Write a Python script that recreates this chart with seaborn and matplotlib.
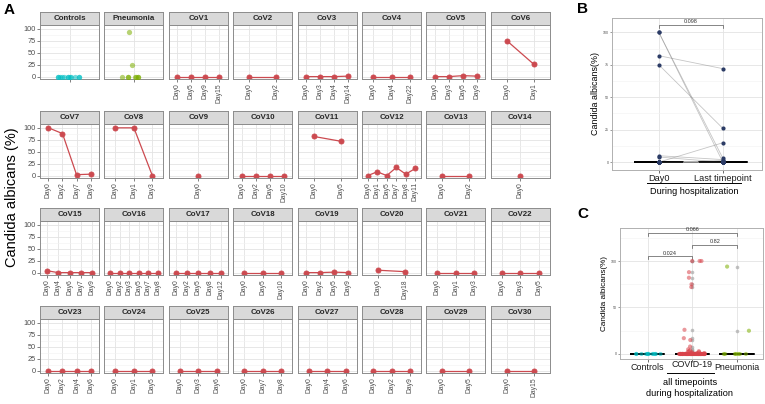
import numpy as np
import pandas as pd
import matplotlib
matplotlib.use('Agg')
import matplotlib.pyplot as plt
import seaborn as sns
from matplotlib.lines import Line2D
from matplotlib.transforms import ScaledTranslation

plt.rcParams['font.family'] = ['Liberation Sans', 'DejaVu Sans']

# ---- data ----
controls_vals = [0, 0, 0, 0, 0, 0, 0, 0, 0, 0, 0, 0]
pneumonia_vals = [0, 0, 0, 0, 0, 0, 0, 25, 94]

patients = ['CoV%d' % i for i in range(1, 31)]
cov_days = [
    ['Day0', 'Day5', 'Day9', 'Day15'],
    ['Day0', 'Day2'],
    ['Day0', 'Day3', 'Day4', 'Day14'],
    ['Day0', 'Day4', 'Day22'],
    ['Day0', 'Day3', 'Day5', 'Day9'],
    ['Day0', 'Day1'],
    ['Day0', 'Day2', 'Day7', 'Day9'],
    ['Day0', 'Day1', 'Day3'],
    ['Day0'],
    ['Day0', 'Day2', 'Day5', 'Day10'],
    ['Day0', 'Day5'],
    ['Day0', 'Day1', 'Day5', 'Day7', 'Day8', 'Day11'],
    ['Day0', 'Day2'],
    ['Day0'],
    ['Day0', 'Day4', 'Day6', 'Day7', 'Day9'],
    ['Day0', 'Day2', 'Day3', 'Day5', 'Day7', 'Day8'],
    ['Day0', 'Day2', 'Day5', 'Day8', 'Day12'],
    ['Day0', 'Day5', 'Day10'],
    ['Day0', 'Day2', 'Day5', 'Day9'],
    ['Day0', 'Day18'],
    ['Day0', 'Day1', 'Day3'],
    ['Day0', 'Day3', 'Day5'],
    ['Day0', 'Day2', 'Day4', 'Day6'],
    ['Day0', 'Day1', 'Day5'],
    ['Day0', 'Day3', 'Day6'],
    ['Day0', 'Day7', 'Day8'],
    ['Day0', 'Day4', 'Day6'],
    ['Day0', 'Day2', 'Day9'],
    ['Day0', 'Day5'],
    ['Day0', 'Day15'],
]
cov_vals = [
    [0, 0, 0, 0],
    [0, 0],
    [0, 0, 0, 1],
    [0, 0, 0],
    [0, 0, 2, 1],
    [75, 26],
    [100, 88, 2, 3],
    [100, 100, 0],
    [0],
    [0, 0, 0, 0],
    [82, 72],
    [0, 8, 0, 17, 3, 15],
    [0, 0],
    [0],
    [4, 0, 0, 0, 0],
    [0, 0, 0, 0, 0, 0],
    [0, 0, 0, 0, 0],
    [0, 0, 0],
    [0, 0, 1, 0],
    [5, 2],
    [0, 0, 0],
    [0, 0, 0],
    [0, 0, 0, 0],
    [0, 0, 0],
    [0, 0, 0],
    [0, 0, 0],
    [0, 0, 0],
    [0, 0, 0],
    [0, 0],
    [0, 0],
]
groups_c = ['Controls', 'COVID-19', 'Pneumonia']
pval_b = '0.098'
pvals_c = ['0.024', '0.82', '0.066']

RED = '#CC4A50'
TEAL = '#00BFC4'
OLIVE = '#7CAE00'
NAVY = '#2C3C66'
BORDER = '#8C8C8C'

W, H = 765, 404
fig = plt.figure(figsize=(W / 100, H / 100), dpi=100)


def fr(x, y, w, h):
    return [x / W, 1 - (y + h) / H, w / W, h / H]


def style_facet(ax, n, show_y):
    ax.set_xlim(-0.6, n - 0.4)
    ax.set_ylim(-5, 108)
    ax.set_yticks([0, 25, 50, 75, 100])
    ax.set_yticks([12.5, 37.5, 62.5, 87.5], minor=True)
    ax.grid(which='major', color='#E3E3E3', linewidth=0.6)
    ax.grid(which='minor', axis='y', color='#F2F2F2', linewidth=0.4)
    ax.set_axisbelow(True)
    for s in ax.spines.values():
        s.set_color(BORDER)
        s.set_linewidth(0.7)
    ax.tick_params(axis='y', which='major', labelsize=5.3, length=2,
                   width=0.5, colors='#4D4D4D', pad=1)
    ax.tick_params(axis='x', which='major', labelsize=4.9, length=2,
                   width=0.5, colors='#4D4D4D', pad=1)
    ax.tick_params(which='minor', length=0)
    if not show_y:
        ax.tick_params(axis='y', labelleft=False, left=False)
    plt.setp(ax.get_xticklabels(), rotation=90)
    ax.set_xlabel('')
    ax.set_ylabel('')


# ---- panel A ----
facets = ['Controls', 'Pneumonia'] + patients
row_tops = [25, 124, 221, 319]
np.random.seed(3)
for k, name in enumerate(facets):
    r, c = divmod(k, 8)
    x0 = 40 + c * 64.4
    top = row_tops[r]
    ax = fig.add_axes(fr(x0, top, 59, 54))
    sax = fig.add_axes(fr(x0, top - 13, 59, 13))
    sax.set_facecolor('#D9D9D9')
    sax.set_xticks([])
    sax.set_yticks([])
    for s in sax.spines.values():
        s.set_color(BORDER)
        s.set_linewidth(0.7)
    sax.text(0.5, 0.47, name, ha='center', va='center', fontsize=5.7,
             fontweight='bold', color='#262626', transform=sax.transAxes)

    if name == 'Controls':
        sns.stripplot(x=['Controls'] * len(controls_vals), y=controls_vals,
                      color=TEAL, alpha=0.55, jitter=0.25, size=3.8, ax=ax)
        n = 1
        ax.set_xticks([0])
        ax.set_xticklabels([''])
    elif name == 'Pneumonia':
        sns.stripplot(x=['Pneumonia'] * len(pneumonia_vals), y=pneumonia_vals,
                      color=OLIVE, alpha=0.55, jitter=0.25, size=3.8, ax=ax)
        n = 1
        ax.set_xticks([0])
        ax.set_xticklabels([''])
    else:
        i = k - 2
        sns.pointplot(x=cov_days[i], y=cov_vals[i], color=RED, errorbar=None,
                      markersize=3.6, linewidth=0.9, ax=ax)
        n = len(cov_days[i])
    style_facet(ax, n, c == 0)

fig.text(12 / W, 1 - 197 / H, 'Candida albicans (%)', rotation=90,
         ha='center', va='center', fontsize=10.5)
fig.text(4 / W, 1 - 10 / H, 'A', fontsize=11, fontweight='bold', va='center')


def style_side(ax, ylab_size):
    ax.grid(which='major', color='#E3E3E3', linewidth=0.6)
    ax.grid(which='minor', axis='y', color='#F2F2F2', linewidth=0.4)
    ax.set_axisbelow(True)
    for s in ax.spines.values():
        s.set_color('#B0B0B0')
        s.set_linewidth(0.7)
    ax.tick_params(axis='y', which='major', labelsize=2.6, length=1.5,
                   width=0.4, colors='#4D4D4D', pad=1)
    ax.tick_params(axis='x', which='major', labelsize=6.6, length=2,
                   width=0.5, colors='#333333', labelcolor='#1A1A1A', pad=1)
    ax.tick_params(which='minor', length=0)
    ax.set_xlabel('')
    ax.set_ylabel('Candida albicans(%)', fontsize=ylab_size, labelpad=2)


# ---- panel B ----
axB = fig.add_axes(fr(612, 18, 150, 152))
day0 = [v[0] for v in cov_vals]
last = [v[-1] for v in cov_vals]
dfb = pd.DataFrame({'pid': patients * 2,
                    'tp': ['Day0'] * 30 + ['Last timepoint'] * 30,
                    'val': day0 + last})
dfb['pos'] = dfb['tp'].map({'Day0': 0, 'Last timepoint': 1})
sns.boxplot(data=dfb, x='tp', y='val', width=0.75, showfliers=False,
            fill=False, color='black', linewidth=1.1, ax=axB)
sns.lineplot(data=dfb, x='pos', y='val', units='pid', estimator=None,
             color='#808080', alpha=0.45, linewidth=0.6, legend=False, ax=axB)
sns.stripplot(data=dfb, x='tp', y='val', jitter=False, color=NAVY, size=3,
              ax=axB)
axB.set_xlim(-0.73, 1.61)
axB.set_ylim(-6, 111)
axB.set_yticks([0, 25, 50, 75, 100])
axB.set_yticks([12.5, 37.5, 62.5, 87.5], minor=True)
axB.set_xticks([0, 1])
axB.set_xticklabels(['Day0', 'Last timepoint'])
style_side(axB, 6.4)
axB.plot([0, 0, 1, 1], [103.5, 105.5, 105.5, 103.5], color='#555555', lw=0.5)
axB.text(0.5, 106.2, pval_b, ha='center', va='bottom', fontsize=4,
         color='#333333')
fig.add_artist(Line2D([647 / W, 741 / W], [1 - 183 / H, 1 - 183 / H],
                      color='black', lw=0.7))
fig.text(694 / W, 1 - 192 / H, 'During hospitalization', ha='center',
         va='center', fontsize=6.6)
fig.text(577 / W, 1 - 9 / H, 'B', fontsize=11, fontweight='bold', va='center')

# ---- panel C ----
axC = fig.add_axes(fr(620, 228, 143, 131))
covid_all = [v for vals in cov_vals for v in vals]
dfc = pd.DataFrame({
    'group': ['Controls'] * len(controls_vals) + ['COVID-19'] * len(covid_all)
             + ['Pneumonia'] * len(pneumonia_vals),
    'val': controls_vals + covid_all + pneumonia_vals})
sns.boxplot(data=dfc, x='group', y='val', order=groups_c, width=0.75,
            fill=False, color='black', linewidth=1.1,
            flierprops=dict(marker='o', markerfacecolor='#A8A8A8',
                            markeredgecolor='none', markersize=2.6, alpha=0.7),
            ax=axC)
np.random.seed(7)
sns.stripplot(data=dfc, x='group', y='val', hue='group', order=groups_c,
              hue_order=groups_c, palette=[TEAL, '#D9444C', OLIVE], alpha=0.55,
              jitter=0.3, size=3, legend=False, ax=axC)
axC.set_xlim(-0.62, 2.58)
axC.set_ylim(-5.4, 135.5)
axC.set_yticks([0, 50, 100])
axC.set_yticks([25, 75, 125], minor=True)
style_side(axC, 5.9)
axC.tick_params(axis='x', labelsize=6.4)
# COVID-19 label sits a little higher in the original
lab = axC.get_xticklabels()[1]
lab.set_transform(lab.get_transform()
                  + ScaledTranslation(0, 2.5 / 72, fig.dpi_scale_trans))
for (a, b), yb, p in zip([(0, 1), (1, 2), (0, 2)], [105, 117, 130], pvals_c):
    axC.plot([a, a, b, b], [yb - 3, yb, yb, yb - 3], color='#555555', lw=0.5)
    axC.text((a + b) / 2, yb + 0.8, p, ha='center', va='bottom', fontsize=4,
             color='#333333')
fig.add_artist(Line2D([667 / W, 714 / W], [1 - 373 / H, 1 - 373 / H],
                      color='black', lw=0.7))
fig.text(690 / W, 1 - 388 / H, 'all timepoints\nduring hospitalization',
         ha='center', va='center', fontsize=6.6, linespacing=1.15)
fig.text(577 / W, 1 - 214 / H, 'C', fontsize=11, fontweight='bold',
         va='center')

fig.savefig('out.png', dpi=100)
